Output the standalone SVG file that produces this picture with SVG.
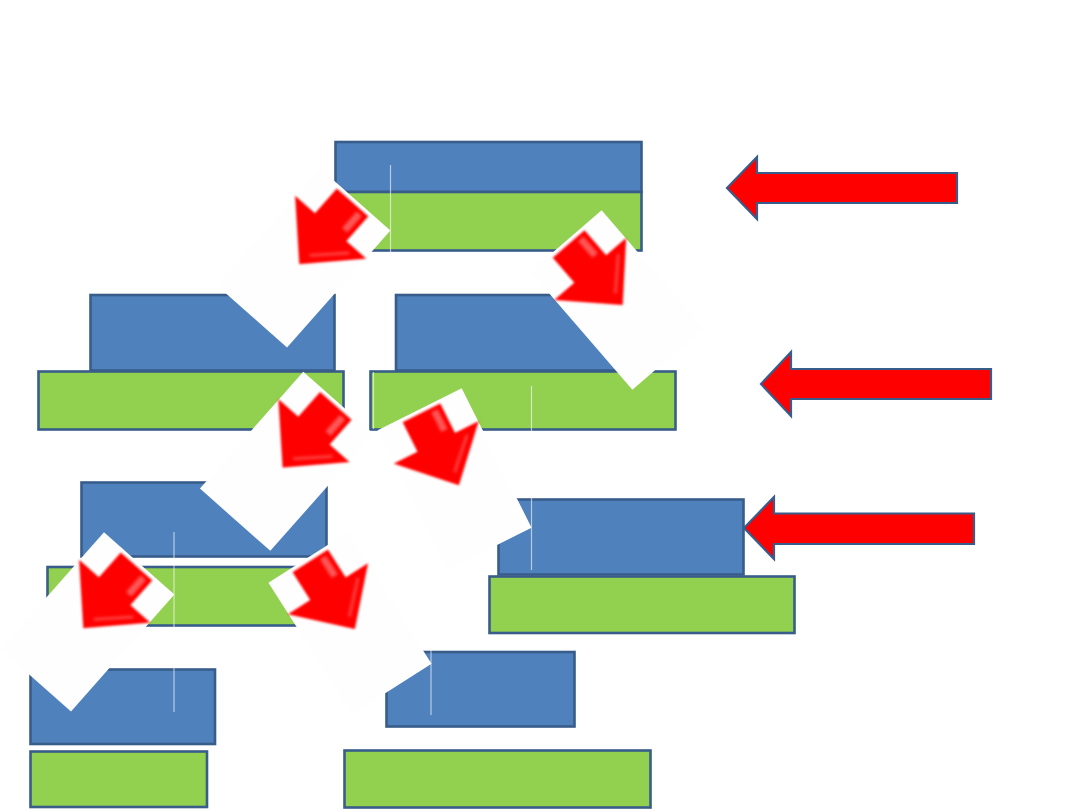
<svg xmlns="http://www.w3.org/2000/svg" xmlns:xlink="http://www.w3.org/1999/xlink" width="1080" height="810" viewBox="0 0 1080 810">
<style>
.blue{fill:#4F81BD;stroke:#385D8A;stroke-width:2.6}
.green{fill:#92D050;stroke:#385D8A;stroke-width:2.6}
.harrow{fill:#FF0000;stroke:#385D8A;stroke-width:2.2;stroke-linejoin:miter}
.hl{stroke:#FFFFFF;stroke-opacity:0.6;stroke-width:1.2;fill:none}
</style>
<defs>
<filter id="soft" x="-20%" y="-20%" width="140%" height="140%">
<feGaussianBlur stdDeviation="1.1"/>
</filter>
<filter id="soft2" x="-50%" y="-50%" width="200%" height="200%">
<feGaussianBlur stdDeviation="1.6"/>
</filter>
<g id="darrow">
<rect x="-47" y="-78" width="94" height="156" fill="#FEFEFE"/>
<polygon points="-21,-74 21,-74 21,-41 47.5,-41 1,7.5 -47.5,-41 -21,-41" fill="#FF0000" filter="url(#soft)"/>
<rect x="9" y="-70" width="7" height="22" fill="#FF7a7a" opacity="0.7" filter="url(#soft2)"/>
<line x1="31" y1="-34" x2="3" y2="-6" stroke="#FF7a7a" stroke-width="3" opacity="0.55" filter="url(#soft2)"/>
</g>
</defs>
<rect width="1080" height="810" fill="#FFFFFF"/>

<g id="node-top">
<rect class="blue" x="335.5" y="142" width="306" height="50"/>
<rect class="green" x="335.5" y="192" width="306" height="58.5"/>
</g>
<g id="node-mid-left">
<rect class="blue" x="90.5" y="295" width="244" height="75.5"/>
<rect class="green" x="38.5" y="371.5" width="305" height="58"/>
</g>
<g id="node-mid-right">
<rect class="blue" x="396" y="295" width="246" height="75.5"/>
<rect class="green" x="370.5" y="371.5" width="305" height="58"/>
</g>
<g id="node-row3-left">
<rect class="blue" x="81.5" y="482.5" width="245" height="74"/>
<rect class="green" x="47.5" y="567" width="305" height="58.5"/>
</g>
<g id="node-row3-right">
<rect class="blue" x="498.5" y="499.5" width="245" height="75"/>
<rect class="green" x="489.5" y="576.5" width="305" height="56.5"/>
</g>
<g id="node-row4-left">
<rect class="blue" x="30.5" y="669.5" width="184.5" height="74.5"/>
<rect class="green" x="30.5" y="751.5" width="176.5" height="55.5"/>
</g>
<g id="node-row4-right">
<rect class="blue" x="386.5" y="652" width="188" height="74.5"/>
<rect class="green" x="344.5" y="750.5" width="306" height="57"/>
</g>

<g id="guides">
<line class="hl" x1="390.5" y1="165" x2="390.5" y2="252"/>
<line class="hl" x1="373.5" y1="372" x2="373.5" y2="429"/>
<line class="hl" x1="531.5" y1="386" x2="531.5" y2="570"/>
<line class="hl" x1="174" y1="532" x2="174" y2="712"/>
<line class="hl" x1="431" y1="545" x2="431" y2="715"/>
</g>

<g id="connectors">
<use xlink:href="#darrow" href="#darrow" transform="translate(303.5,257.9) rotate(41.5)"/>
<use xlink:href="#darrow" href="#darrow" transform="translate(617,300) rotate(-40.8)"/>
<use xlink:href="#darrow" href="#darrow" transform="translate(286.8,461.3) rotate(41.5)"/>
<use xlink:href="#darrow" href="#darrow" transform="translate(454.6,479) rotate(-26.6)"/>
<use xlink:href="#darrow" href="#darrow" transform="translate(87.5,621.9) rotate(41.5)"/>
<use xlink:href="#darrow" href="#darrow" transform="translate(350,623.3) rotate(-32.5)"/>
</g>

<g id="side-arrows">
<polygon class="harrow" points="727,188 757,157 757,173 957,173 957,203 757,203 757,219"/>
<polygon class="harrow" points="761,384 791,352 791,369 991,369 991,399 791,399 791,416"/>
<polygon class="harrow" points="744,528 774,497 774,513.5 974,513.5 974,544 774,544 774,559"/>
</g>
</svg>
